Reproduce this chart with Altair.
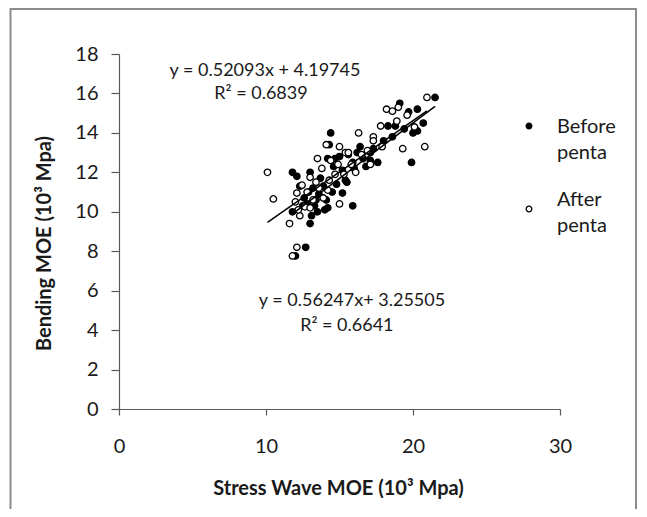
import altair as alt
import pandas as pd

series_names = ["Before penta", "After penta"]

before_x = [11.8, 12.1, 14.4, 14.3, 14.2, 14.7, 15.2, 16.0, 15.4, 15.5,
            15.2, 15.9, 14.0, 14.2, 13.1, 13.0, 12.7, 12.0, 11.8, 15.9,
            16.6, 17.1, 17.6, 16.4, 16.2, 17.1, 17.3, 18.0, 18.3, 18.8,
            19.1, 19.7, 20.3, 20.7, 20.0, 20.3, 21.5, 19.9, 12.6, 12.9,
            13.2, 13.4, 13.6, 13.9, 13.3, 12.5, 14.5, 14.8, 13.7, 13.0,
            14.6, 15.0, 16.8, 12.3, 14.1, 18.6, 13.5, 12.8, 19.4, 15.6]
before_y = [12.0, 11.8, 14.0, 13.4, 12.7, 12.7, 12.1, 12.2, 11.6, 11.5,
            10.95, 10.3, 10.1, 10.2, 9.8, 9.4, 8.2, 7.76, 10.0, 12.5,
            12.7, 12.6, 12.5, 13.3, 13.0, 13.0, 13.2, 13.6, 14.35, 14.35,
            15.5, 15.06, 15.2, 14.5, 14.0, 14.1, 15.8, 12.5, 10.7, 11.0,
            11.2, 10.6, 10.9, 11.3, 10.3, 10.3, 11.0, 11.4, 11.7, 12.0,
            12.3, 12.8, 12.3, 11.3, 10.6, 13.8, 10.0, 10.4, 14.2, 12.9]

after_x = [10.1, 10.5, 11.6, 12.3, 12.1, 11.8, 12.0, 12.1, 12.45, 12.65,
           13.0, 13.8, 14.1, 15.0, 13.5, 15.0, 15.4, 15.6, 17.1, 16.3,
           17.3, 17.3, 17.8, 18.2, 18.6, 19.3, 20.8, 20.1, 20.95, 13.2,
           13.6, 14.3, 14.7, 12.8, 13.9, 14.4, 15.3, 16.5, 16.9, 17.9,
           18.9, 19.6, 13.4, 14.9, 12.2, 14.2, 16.1, 13.0, 19.0, 15.8]
after_y = [12.0, 10.65, 9.4, 9.8, 8.2, 7.76, 10.5, 10.95, 11.35, 10.25,
           11.75, 12.2, 13.4, 13.3, 12.7, 10.4, 13.0, 13.0, 12.4, 14.0,
           13.8, 13.6, 14.35, 15.2, 15.1, 13.2, 13.3, 14.3, 15.8, 10.6,
           11.2, 11.6, 11.9, 11.0, 10.7, 12.6, 11.9, 12.9, 13.1, 13.3,
           14.6, 14.9, 11.5, 12.4, 10.1, 11.1, 12.0, 10.2, 15.3, 12.4]

# trendline coefficients as printed on the chart (Before, After)
slopes = [0.56247, 0.52093]
intercepts = [3.25505, 4.19745]
eq_labels = ["y = 0.56247x+ 3.25505", "y = 0.52093x + 4.19745"]
r2_labels = ["R\u00b2 = 0.6641", "R\u00b2 = 0.6839"]

x_ticks = [0, 10, 20, 30]
y_ticks = [0, 2, 4, 6, 8, 10, 12, 14, 16, 18]

FONT = "Lato"

points = pd.concat([
    pd.DataFrame({"x": before_x, "y": before_y, "series": series_names[0]}),
    pd.DataFrame({"x": after_x, "y": after_y, "series": series_names[1]}),
], ignore_index=True)
points["order"] = range(len(points))

xs_all = [before_x, after_x]
trend = pd.DataFrame({
    "series": [s for s in series_names for _ in range(2)],
    "x": [v for xs in xs_all for v in (min(xs), max(xs))],
})
trend["y"] = [slopes[i] * trend["x"][k] + intercepts[i]
              for k, i in enumerate([0, 0, 1, 1])]

labels = pd.DataFrame({
    "text": [eq_labels[1], r2_labels[1], eq_labels[0], r2_labels[0]],
    "x": [9.93, 9.66, 15.85, 15.5],
    "y": [17.14, 15.97, 5.48, 4.21],
})

fill_scale = alt.Scale(domain=series_names, range=["#000000", "#ffffff"])
x_scale = alt.Scale(domain=[0, 30], nice=False)
y_scale = alt.Scale(domain=[0, 18], nice=False)

x_axis = alt.Axis(values=x_ticks, title="Stress Wave MOE (10\u00b3 Mpa)",
                  grid=False, tickSize=6, labelPadding=21, labelFlush=False,
                  titleX=219, titleY=79, titleBaseline="middle")
y_axis = alt.Axis(values=y_ticks, title="Bending MOE (10\u00b3 Mpa)",
                  grid=False, tickSize=8, labelPadding=13,
                  titleX=-75, titleY=189, titleBaseline="middle")

X = alt.X("x:Q", scale=x_scale, axis=x_axis)
Y = alt.Y("y:Q", scale=y_scale, axis=y_axis)

pts = alt.Chart(points).mark_point(
    filled=True, stroke="black", strokeWidth=1.3, size=42, opacity=1
).encode(
    x=X, y=Y,
    fill=alt.Fill("series:N", scale=fill_scale, legend=None),
    order="order:Q",
)

lines = alt.Chart(trend).mark_line(color="black", strokeWidth=1.5).encode(
    x=X, y=Y, detail="series:N",
)

txt = alt.Chart(labels).mark_text(
    font=FONT, fontSize=18, color="#1a1a1a", align="center", baseline="middle"
).encode(
    x=X, y=Y, text="text:N",
)

# legend (decoration): symbols share the data fill scale
legend_layers = []
leg_pos = [(410, 72, 79), (410, 155, 152)]
for name, (sx, sy, ty) in zip(series_names, leg_pos):
    d = pd.DataFrame({"series": [name]})
    legend_layers.append(
        alt.Chart(d).mark_point(filled=True, stroke="black", strokeWidth=1.3,
                                size=32, opacity=1).encode(
            x=alt.value(sx), y=alt.value(sy),
            fill=alt.Fill("series:N", scale=fill_scale, legend=None))
    )
    legend_layers.append(
        alt.Chart(d).mark_text(text=name.split(" "), font=FONT, fontSize=20,
                               align="left", baseline="alphabetic",
                               lineHeight=26, color="#1a1a1a").encode(
            x=alt.value(438), y=alt.value(ty))
    )

frame = alt.Chart(pd.DataFrame({"a": [0]})).mark_rect(
    fill="transparent", stroke="#8c8c8c", strokeWidth=2
).encode(x=alt.value(-108.5), x2=alt.value(517), y=alt.value(-45), y2=alt.value(470))

chart = alt.layer(pts, lines, txt, frame, *legend_layers).properties(
    width=441, height=355,
    padding={"left": 111, "top": 46, "right": 79, "bottom": 100},
    autosize="none",
    background="white",
).configure_view(stroke=None).configure_axis(
    labelFont=FONT, labelFontSize=20, labelColor="#1a1a1a",
    titleFont=FONT, titleFontSize=20, titleFontWeight="bold", titleColor="#1a1a1a",
    domainColor="#595959", tickColor="#595959", domainWidth=1.2, tickWidth=1.2,
    labelOverlap=False, labelBound=False,
)

chart.save("out.html", embed_options={"renderer": "svg", "actions": False})
